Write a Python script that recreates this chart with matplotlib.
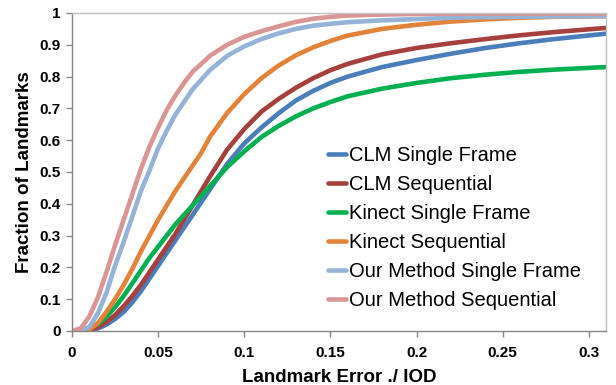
import matplotlib
matplotlib.use('Agg')
import matplotlib.pyplot as plt

plt.rcParams.update({
    'font.family': ['Liberation Sans', 'DejaVu Sans'],
    'figure.dpi': 100,
})

# landmark error (normalised by inter-ocular distance)
err = [0, 0.005, 0.01, 0.015, 0.02, 0.025, 0.03, 0.035, 0.04, 0.045, 0.05,
       0.055, 0.06, 0.065, 0.07, 0.075, 0.08, 0.09, 0.1, 0.11, 0.12, 0.13,
       0.14, 0.15, 0.16, 0.18, 0.2, 0.22, 0.24, 0.26, 0.28, 0.31]

clm_single = [0, 0, 0.002, 0.008, 0.02, 0.038, 0.06, 0.09, 0.125, 0.165, 0.205,
              0.245, 0.285, 0.325, 0.365, 0.405, 0.445, 0.525, 0.59, 0.64, 0.685, 0.725,
              0.755, 0.78, 0.80, 0.83, 0.852, 0.872, 0.89, 0.905, 0.918, 0.935]
clm_seq = [0, 0, 0.003, 0.012, 0.028, 0.05, 0.078, 0.11, 0.145, 0.185, 0.225,
           0.265, 0.305, 0.35, 0.395, 0.44, 0.485, 0.57, 0.635, 0.69, 0.73, 0.765,
           0.795, 0.82, 0.84, 0.87, 0.89, 0.905, 0.918, 0.93, 0.94, 0.953]
kinect_single = [0, 0.001, 0.008, 0.022, 0.045, 0.075, 0.11, 0.15, 0.19, 0.23, 0.265,
                 0.30, 0.335, 0.365, 0.395, 0.425, 0.455, 0.515, 0.565, 0.61, 0.645, 0.675,
                 0.70, 0.72, 0.738, 0.762, 0.78, 0.795, 0.806, 0.815, 0.822, 0.83]
kinect_seq = [0, 0, 0.004, 0.025, 0.06, 0.1, 0.145, 0.195, 0.25, 0.30, 0.35,
              0.395, 0.44, 0.48, 0.52, 0.56, 0.61, 0.685, 0.745, 0.795, 0.835, 0.867,
              0.892, 0.912, 0.929, 0.95, 0.963, 0.973, 0.98, 0.985, 0.988, 0.99]
ours_single = [0, 0.003, 0.012, 0.055, 0.12, 0.205, 0.28, 0.36, 0.44, 0.505, 0.575,
               0.63, 0.68, 0.72, 0.76, 0.79, 0.82, 0.865, 0.895, 0.918, 0.936, 0.95,
               0.96, 0.966, 0.971, 0.977, 0.981, 0.985, 0.987, 0.988, 0.989, 0.99]
ours_seq = [0, 0.008, 0.045, 0.105, 0.185, 0.27, 0.35, 0.43, 0.51, 0.58, 0.64,
            0.695, 0.74, 0.78, 0.815, 0.84, 0.865, 0.90, 0.925, 0.943, 0.958, 0.972,
            0.982, 0.988, 0.992, 0.995, 0.997, 0.998, 0.998, 0.998, 0.998, 0.998]

labels = ['CLM Single Frame', 'CLM Sequential', 'Kinect Single Frame',
          'Kinect Sequential', 'Our Method Single Frame', 'Our Method Sequential']
series = [clm_single, clm_seq, kinect_single, kinect_seq, ours_single, ours_seq]
colors = ['#4A7EBB', '#A5403D', '#00B050', '#E3833A', '#95B3D7', '#D99694']

x_ticks = [0, 0.05, 0.1, 0.15, 0.2, 0.25, 0.3]
x_ticklabels = ['0', '0.05', '0.1', '0.15', '0.2', '0.25', '0.3']
y_ticks = [0, 0.1, 0.2, 0.3, 0.4, 0.5, 0.6, 0.7, 0.8, 0.9, 1]
y_ticklabels = ['0', '0.1', '0.2', '0.3', '0.4', '0.5', '0.6', '0.7', '0.8', '0.9', '1']

fig = plt.figure(figsize=(6.16, 3.85))
ax = fig.add_axes([72 / 616, 1 - 331 / 385, 534 / 616, 318 / 385])

for ys, c, lab in zip(series, colors, labels):
    ax.plot(err, ys, color=c, linewidth=3.3, label=lab,
            solid_capstyle='round', solid_joinstyle='round')

ax.set_xlim(0, 0.31)
ax.set_ylim(0, 1)
ax.set_xticks(x_ticks)
ax.set_xticklabels(x_ticklabels)
ax.set_yticks(y_ticks)
ax.set_yticklabels(y_ticklabels)
for lab in ax.get_xticklabels() + ax.get_yticklabels():
    lab.set_fontweight('bold')
    lab.set_fontsize(11)

ax.tick_params(direction='out', length=4, width=1, color='#868686')
ax.tick_params(axis='x', pad=7)
ax.tick_params(axis='y', pad=4)
for side in ['left', 'bottom']:
    ax.spines[side].set_color('#868686')
    ax.spines[side].set_linewidth(1)
for side in ['top', 'right']:
    ax.spines[side].set_color('#BFBFBF')
    ax.spines[side].set_linewidth(1)

ax.set_xlabel('Landmark Error ./ IOD', fontsize=13.5, fontweight='bold', labelpad=6)
ax.set_ylabel('Fraction of Landmarks', fontsize=13.5, fontweight='bold', labelpad=5)

ax.legend(loc='upper left', bbox_to_anchor=(328 / 616, 1 - 146 / 385),
          bbox_transform=fig.transFigure, frameon=False, fontsize=14.5,
          handlelength=0.9, handletextpad=0.15, labelspacing=0.5, borderpad=0,
          borderaxespad=0)

fig.savefig('out.png', dpi=100)
